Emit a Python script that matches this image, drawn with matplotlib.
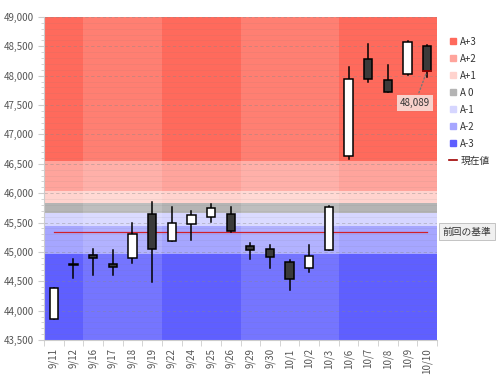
import matplotlib
matplotlib.use("Agg")
import matplotlib.pyplot as plt
import numpy as np
import pandas as pd
from matplotlib.lines import Line2D
from matplotlib.ticker import FuncFormatter, MultipleLocator

plt.rcParams['font.family'] = ['Noto Sans CJK JP', 'DejaVu Sans']

# Data
dates = ['9/11', '9/12', '9/16', '9/17', '9/18', '9/19', '9/22', '9/24', '9/25', '9/26',
         '9/29', '9/30', '10/1', '10/2', '10/3', '10/6', '10/7', '10/8', '10/9', '10/10']
opens = [43860, 44800, 44940, 44790, 44900, 45640, 45185, 45470, 45595, 45640,
         45100, 45055, 44835, 44720, 45030, 46635, 48285, 47925, 48035, 48510]
highs = [44390, 44875, 45045, 45025, 45500, 45845, 45760, 45690, 45820, 45760,
         45145, 45110, 44860, 45110, 45775, 48155, 48535, 48185, 48590, 48515]
lows = [43850, 44550, 44605, 44610, 44805, 44480, 45180, 45200, 45505, 45345,
        44885, 44730, 44350, 44665, 45025, 46590, 47900, 47720, 48005, 47975]
closes = [44380, 44770, 44890, 44750, 45300, 45045, 45490, 45630, 45745, 45350,
          45040, 44920, 44540, 44930, 45770, 47940, 47945, 47725, 48580, 48089]

band_labels = ['A+3', 'A+2', 'A+1', 'A 0', 'A-1', 'A-2', 'A-3']
band_edges = [49000, 46555, 46040, 45840, 45660, 45440, 44960, 43500]
band_colors = ['#ff6a5c', '#ffa49c', '#ffd3ce', '#b4b4b4', '#d6d6ff', '#a6a6ff', '#5f5fff']

prev_base = 45345
prev_label = '前回の基準'
current_label = '現在値'

fig = plt.figure(figsize=(5.03, 3.80), dpi=100)
ax = fig.add_axes([44 / 503, 1 - 340 / 380, 393 / 503, 323 / 380])

n = len(dates)
x = np.arange(n)
ax.set_xlim(-0.5, n - 0.5)
ax.set_ylim(43500, 49000)

# bands
for lab, top, bot, c in zip(band_labels, band_edges[:-1], band_edges[1:], band_colors):
    ax.axhspan(bot, top, color=c, lw=0, zorder=0)

# lighter shading on alternate weeks
weeks = pd.to_datetime(['2025/' + d for d in dates]).isocalendar().week.values
starts = [0] + [i for i in range(1, n) if weeks[i] != weeks[i - 1]] + [n]
for k in range(len(starts) - 1):
    if k % 2 == 1:
        ax.axvspan(starts[k] - 0.5, starts[k + 1] - 0.5, color='white', alpha=0.14, lw=0, zorder=0.5)

# grid
ax.yaxis.set_major_locator(MultipleLocator(500))
ax.yaxis.set_minor_locator(MultipleLocator(100))
ax.grid(axis='y', which='major', color='#888888', ls=(0, (4, 3)), lw=0.6, alpha=0.45, zorder=0.8)
ax.grid(axis='y', which='minor', color='#777777', ls='-', lw=0.5, alpha=0.12, zorder=0.8)

# previous base line
ax.plot([x[0], x[-1]], [prev_base, prev_base], color='#d0202a', lw=0.9, zorder=1)

# candles
w = 0.42
for i in range(n):
    o, h, l, c = opens[i], highs[i], lows[i], closes[i]
    ax.plot([x[i], x[i]], [l, h], color='black', lw=1.1, zorder=2)
    up = c >= o
    ax.bar(x[i], abs(c - o) if abs(c - o) > 15 else 15, bottom=min(o, c), width=w,
           color='white' if up else '#3a3a3a', edgecolor='black', lw=1.1, zorder=3)

# current value marker
ax.plot([x[-1] - w / 2, x[-1] + w / 2], [closes[-1], closes[-1]], color='#a00000', lw=1.2, zorder=4)
ax.annotate(f'{closes[-1]:,}', xy=(x[-1], closes[-1]), xytext=(x[-1] - 0.62, 47530),
            ha='center', va='center', fontsize=7, color='#333333',
            bbox=dict(boxstyle='square,pad=0.3', fc='#f7e4e0', ec='none', alpha=0.85),
            arrowprops=dict(arrowstyle='-', color='#777777', ls=':', lw=1), zorder=5)

# previous base label outside
ax.annotate(prev_label, xy=(1.015, prev_base), xycoords=('axes fraction', 'data'),
            ha='left', va='center', fontsize=7, color='#333333', annotation_clip=False,
            bbox=dict(boxstyle='square,pad=0.35', fc='#f0f0f0', ec='#bbbbbb', lw=0.6))

# axes styling
ax.set_xticks(x)
ax.set_xticklabels(dates, rotation=90, fontsize=7, color='#555555')
ax.set_xticks(np.arange(n + 1) - 0.5, minor=True)
ax.tick_params(axis='x', which='major', length=0, pad=6)
ax.tick_params(axis='x', which='minor', length=4, color='#cccccc')
ax.yaxis.set_major_formatter(FuncFormatter(lambda v, p: f'{int(v):,}'))
ax.tick_params(axis='y', which='major', labelsize=7, labelcolor='#555555', length=4, color='#cccccc')
ax.tick_params(axis='y', which='minor', length=2, color='#cccccc')
for s in ['top', 'right']:
    ax.spines[s].set_visible(False)
for s in ['left', 'bottom']:
    ax.spines[s].set_color('#cccccc')

# legend
handles = [Line2D([], [], marker='s', ls='none', color=c, markersize=5) for c in band_colors]
handles.append(Line2D([], [], color='#a00000', lw=1.2))
fig.legend(handles, band_labels + [current_label], loc='upper left',
           bbox_to_anchor=(440 / 503, 1 - 28 / 380), frameon=False, fontsize=7,
           handlelength=0.8, handletextpad=0.4, labelspacing=0.72, labelcolor='#333333')

fig.savefig('out.png', dpi=100)
